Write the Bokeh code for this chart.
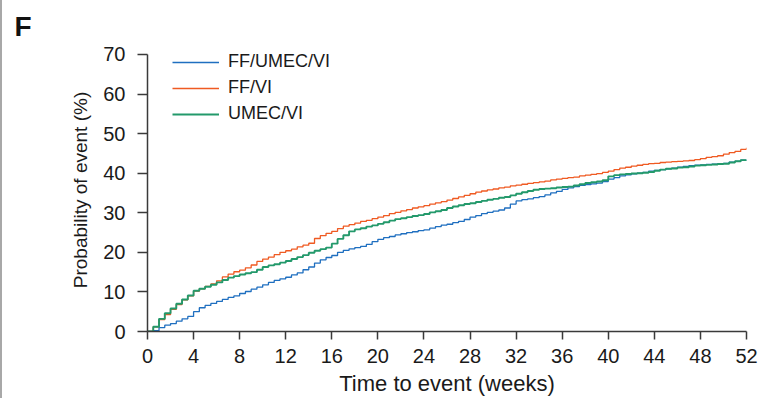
from bokeh.plotting import figure
from bokeh.models import Range1d, FixedTicker, Legend
from bokeh.embed import file_html
from bokeh.resources import INLINE

# Time grid (weeks) at which the cumulative event probabilities are listed
weeks = [0, 0.5, 1, 1.5, 2, 2.5, 3, 3.5, 4, 4.5,
         5, 5.5, 6, 6.5, 7, 7.5, 8, 8.5, 9, 9.5,
         10, 10.5, 11, 11.5, 12, 12.5, 13, 13.5, 14, 14.5,
         15, 15.5, 16, 16.5, 17, 17.5, 18, 18.5, 19, 19.5,
         20, 20.5, 21, 21.5, 22, 22.5, 23, 23.5, 24, 24.5,
         25, 25.5, 26, 26.5, 27, 27.5, 28, 28.5, 29, 29.5,
         30, 30.5, 31, 31.5, 32, 32.5, 33, 33.5, 34, 34.5,
         35, 35.5, 36, 36.5, 37, 37.5, 38, 38.5, 39, 39.5,
         40, 40.5, 41, 41.5, 42, 42.5, 43, 43.5, 44, 44.5,
         45, 45.5, 46, 46.5, 47, 47.5, 48, 48.5, 49, 49.5,
         50, 50.5, 51, 51.5, 52]

# Probability of event (%) per treatment arm
ff_umec_vi = [0, 0.2, 1.0, 1.6, 2.0, 2.6, 3.2, 3.8, 5.0, 6.0,
              6.6, 7.1, 7.6, 8.1, 8.6, 9.0, 9.6, 10.1, 10.7, 11.2,
              11.8, 12.4, 12.9, 13.3, 13.7, 14.3, 14.8, 15.6, 16.3, 17.3,
              18.1, 18.7, 19.2, 20.0, 20.5, 20.9, 21.2, 21.5, 22.0, 22.7,
              23.3, 23.7, 24.0, 24.4, 24.7, 25.0, 25.2, 25.5, 25.7, 26.1,
              26.5, 26.9, 27.1, 27.5, 27.8, 28.3, 28.9, 29.3, 29.8, 30.1,
              30.4, 30.7, 31.2, 32.2, 33.0, 33.3, 33.5, 33.8, 34.1, 34.5,
              35.0, 35.4, 35.9, 36.3, 36.6, 36.9, 37.1, 37.3, 37.5, 37.9,
              38.5, 38.9, 39.3, 39.6, 39.8, 40.0, 40.2, 40.5, 40.7, 40.9,
              41.1, 41.3, 41.5, 41.7, 41.9, 42.0, 42.1, 42.2, 42.3, 42.4,
              42.5, 42.8, 43.0, 43.3, 43.4]

ff_vi = [0, 1.2, 3.0, 4.3, 5.6, 6.8, 8.0, 9.0, 10.2, 10.8,
         11.4, 12.0, 12.8, 13.8, 14.5, 15.1, 15.5, 16.1, 16.8, 17.7,
         18.3, 18.8, 19.4, 20.0, 20.4, 20.8, 21.4, 21.8, 22.3, 23.5,
         24.2, 24.8, 25.3, 26.0, 26.6, 27.0, 27.4, 27.8, 28.1, 28.5,
         28.9, 29.3, 29.8, 30.1, 30.5, 30.8, 31.2, 31.5, 31.8, 32.2,
         32.5, 32.8, 33.2, 33.6, 34.0, 34.4, 34.8, 35.2, 35.5, 35.8,
         36.0, 36.3, 36.5, 36.8, 37.0, 37.2, 37.4, 37.6, 37.8, 38.0,
         38.3, 38.5, 38.7, 38.9, 39.0, 39.3, 39.5, 39.7, 39.9, 40.2,
         40.5, 40.9, 41.3, 41.5, 41.8, 42.0, 42.2, 42.4, 42.5, 42.7,
         42.8, 42.9, 43.0, 43.1, 43.2, 43.4, 43.7, 44.0, 44.2, 44.4,
         44.8, 45.2, 45.5, 46.0, 46.4]

umec_vi = [0, 1.2, 3.2, 4.6, 5.8, 7.0, 8.1, 9.1, 10.3, 10.8,
           11.3, 11.8, 12.4, 13.0, 13.6, 14.0, 14.4, 14.7, 15.0, 15.6,
           16.3, 16.7, 17.0, 17.4, 17.8, 18.3, 18.8, 19.3, 19.9, 20.4,
           20.8, 21.2, 22.2, 23.4, 24.3, 25.3, 25.8, 26.1, 26.5, 26.8,
           27.2, 27.6, 28.0, 28.4, 28.6, 28.9, 29.2, 29.4, 29.7, 30.1,
           30.4, 30.7, 31.2, 31.6, 31.9, 32.2, 32.4, 32.7, 33.0, 33.3,
           33.5, 33.8, 34.0, 34.4, 34.8, 35.2, 35.5, 35.8, 36.0, 36.1,
           36.2, 36.4, 36.5, 36.6, 36.9, 37.2, 37.5, 37.7, 37.9, 38.2,
           39.2, 39.5, 39.7, 39.8, 39.9, 40.0, 40.1, 40.3, 40.6, 40.9,
           41.1, 41.2, 41.4, 41.5, 41.7, 41.9, 42.0, 42.1, 42.2, 42.3,
           42.4, 42.7, 43.0, 43.3, 43.4]

arm_labels = ["FF/UMEC/VI", "FF/VI", "UMEC/VI"]
x_ticks = [0, 4, 8, 12, 16, 20, 24, 28, 32, 36, 40, 44, 48, 52]
y_ticks = [0, 10, 20, 30, 40, 50, 60, 70]

FONT = "Liberation Sans"
TEXT = "#1a1a1a"
AXIS = "#3a3a3a"

# Frame reaches slightly above 70 so the legend fits; the axis line stops at 70
p = figure(width=758, height=398, output_backend="svg", toolbar_location=None,
           x_range=Range1d(0, 52), y_range=Range1d(0, 71.5),
           min_border_left=145, min_border_right=14,
           min_border_top=48, min_border_bottom=67)
p.outline_line_color = None
p.grid.visible = False
p.background_fill_color = "white"
p.border_fill_color = "white"

# Panel letter, pulled to the left edge of the canvas
p.title.text = "F"
p.title.align = "left"
p.title.offset = -133
p.title.standoff = 13
p.title.text_font = FONT
p.title.text_font_size = "28px"
p.title.text_font_style = "bold"
p.title.text_color = "#111111"

curves = [
    (ff_umec_vi, "#1f6fc0", 1.3),
    (ff_vi, "#ef5a22", 1.3),
    (umec_vi, "#23996b", 1.9),
]
items = []
for (vals, color, lw), name in zip(curves, arm_labels):
    r = p.step(weeks, vals, mode="after", line_color=color, line_width=lw)
    items.append((name, [r]))

legend = Legend(items=items, location=(25, 207), padding=0, margin=0,
                spacing=5, label_height=20, glyph_height=20, glyph_width=47,
                label_standoff=9, background_fill_alpha=0, border_line_color=None,
                label_text_font=FONT, label_text_font_size="18px",
                label_text_color=TEXT)
p.add_layout(legend, "center")

for ax in (p.xaxis[0], p.yaxis[0]):
    ax.axis_line_color = AXIS
    ax.axis_line_width = 1.5
    ax.major_tick_line_color = AXIS
    ax.major_tick_line_width = 1.5
    ax.major_tick_in = 0
    ax.minor_tick_line_color = None
    ax.major_label_text_font = FONT
    ax.major_label_text_font_size = "20px"
    ax.major_label_text_color = TEXT
    ax.axis_label_text_font = FONT
    ax.axis_label_text_font_style = "normal"
    ax.axis_label_text_color = TEXT

p.yaxis.bounds = (0, 70)
p.xaxis.ticker = FixedTicker(ticks=x_ticks)
p.yaxis.ticker = FixedTicker(ticks=y_ticks)
p.xaxis.major_tick_out = 8
p.yaxis.major_tick_out = 10
p.xaxis.major_label_standoff = 9
p.yaxis.major_label_standoff = 12
p.xaxis.axis_label = "Time to event (weeks)"
p.yaxis.axis_label = "Probability of event (%)"
p.xaxis.axis_label_text_font_size = "22px"
p.yaxis.axis_label_text_font_size = "19px"
p.xaxis.axis_label_standoff = 5
p.yaxis.axis_label_standoff = 9

p.styles = {"border-left": "2px solid #a8a8a8"}

open("out.html", "w").write(file_html(p, INLINE))
